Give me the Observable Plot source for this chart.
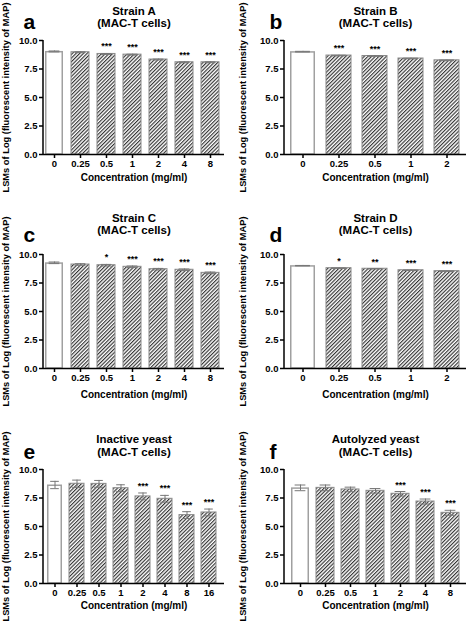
<!DOCTYPE html>
<html><head><meta charset="utf-8">
<script src="https://cdn.jsdelivr.net/npm/d3@7"></script>
<script src="https://cdn.jsdelivr.net/npm/@observablehq/plot@0.6"></script>
<style>
html,body{margin:0;padding:0;background:#fff;}
#root{position:relative;width:472px;height:622px;overflow:hidden;background:#fff;}
.panel{position:absolute;}
</style></head><body><div id="root"></div>
<script>
// ---- data ----
const concA = ["0", "0.25", "0.5", "1", "2", "4", "8"];
const meanA = [9.04, 8.97, 8.82, 8.76, 8.33, 8.09, 8.09];
const errA = [0.04, 0.04, 0.04, 0.04, 0.04, 0.04, 0.04];
const sigA = ["", "", "***", "***", "***", "***", "***"];

const concB = ["0", "0.25", "0.5", "1", "2"];
const meanB = [9.02, 8.68, 8.64, 8.42, 8.26];
const errB = [0.03, 0.03, 0.03, 0.03, 0.03];
const sigB = ["", "***", "***", "***", "***"];

const concC = ["0", "0.25", "0.5", "1", "2", "4", "8"];
const meanC = [9.27, 9.12, 9.06, 8.92, 8.71, 8.66, 8.39];
const errC = [0.07, 0.07, 0.07, 0.07, 0.07, 0.07, 0.07];
const sigC = ["", "", "*", "***", "***", "***", "***"];

const concD = ["0", "0.25", "0.5", "1", "2"];
const meanD = [9.02, 8.8, 8.75, 8.62, 8.54];
const errD = [0.02, 0.02, 0.02, 0.02, 0.02];
const sigD = ["", "*", "**", "***", "***"];

const concE = ["0", "0.25", "0.5", "1", "2", "4", "8", "16"];
const meanE = [8.64, 8.75, 8.74, 8.36, 7.64, 7.43, 6.0, 6.23];
const errE = [0.32, 0.32, 0.3, 0.3, 0.3, 0.3, 0.3, 0.3];
const sigE = ["", "", "", "", "***", "***", "***", "***"];

const concF = ["0", "0.25", "0.5", "1", "2", "4", "8"];
const meanF = [8.39, 8.39, 8.25, 8.13, 7.87, 7.19, 6.2];
const errF = [0.25, 0.25, 0.2, 0.2, 0.2, 0.22, 0.22];
const sigF = ["", "", "", "", "***", "***", "***"];

const yTicks = [0, 2.5, 5, 7.5, 10];
const yLabel = "LSMs of Log (fluorescent intensity of MAP)";
const xLabel = "Concentration (mg/ml)";
const subTitle = "(MAC-T cells)";

const FONT = "'Liberation Sans', Arial, Helvetica, sans-serif";
const root = document.getElementById("root");

function makePanel(p) {
  const data = p.conc.map((c, i) => ({c, v: p.mean[i], e: p.err[i], s: p.sig[i], first: i === 0}));
  const id = "hatch-" + p.letter;
  const n = p.conc.length;
  const range = 236 - p.ml - p.mr - p.il - p.ir;
  const step = range / (n - 0.3 + 0.04);
  const capInset = step * 0.7 * 0.2;

  const defs = () => {
    const d = d3.create("svg:defs");
    const pat = d.append("pattern").attr("id", id).attr("patternUnits", "userSpaceOnUse")
      .attr("width", 2.6).attr("height", 2.6).attr("patternTransform", "rotate(45)");
    pat.append("rect").attr("width", 2.6).attr("height", 2.6).attr("fill", "#fff");
    pat.append("rect").attr("width", 1.15).attr("height", 2.6).attr("fill", "#333");
    return d.node();
  };
  const yAxisLine = (index, scales, values, dims) => {
    return d3.create("svg:line")
      .attr("x1", dims.marginLeft).attr("x2", dims.marginLeft)
      .attr("y1", scales.y(10)).attr("y2", scales.y(0) + 0.75)
      .attr("stroke", "#000").attr("stroke-width", 1.5).node();
  };

  const chart = Plot.plot({
    width: 236, height: p.h,
    marginLeft: p.ml, marginRight: p.mr, marginTop: p.mt, marginBottom: p.mb,
    style: {fontFamily: FONT, fontWeight: "bold", fontSize: "9.5px", color: "#000", background: "transparent", overflow: "visible"},
    x: {type: "band", domain: p.conc, paddingInner: 0.3, paddingOuter: 0.02, insetLeft: p.il, insetRight: p.ir},
    y: {domain: [0, 10]},
    marks: [
      defs,
      Plot.barY(data.filter(d => d.first), {x: "c", y: "v", fill: "#fff", stroke: "#a0a0a0", strokeWidth: 1.5, insetTop: 0.75, insetLeft: 0.75, insetRight: 0.75}),
      Plot.barY(data.filter(d => !d.first), {x: "c", y: "v", fill: `url(#${id})`, stroke: "#8a8a8a", strokeWidth: 1}),
      Plot.ruleX(data, {x: "c", y1: d => d.v - d.e, y2: d => d.v + d.e, stroke: "#777", strokeWidth: 1}),
      Plot.tickY(data, {x: "c", y: d => d.v + d.e, stroke: "#777", strokeWidth: 1, inset: capInset}),
      Plot.tickY(data, {x: "c", y: d => d.v - d.e, stroke: "#777", strokeWidth: 1, inset: capInset}),
      Plot.text(data.filter(d => d.s), {x: "c", y: d => d.v + d.e, text: "s", lineAnchor: "bottom", dy: -4, fontSize: 9}),
      Plot.ruleY([0], {stroke: "#000", strokeWidth: 1.5}),
      yAxisLine,
      Plot.axisY({ticks: yTicks, tickFormat: d3.format(".1f"), tickSize: 4, tickPadding: 2, label: null, strokeWidth: 1.5}),
      Plot.axisX({tickSize: 4, tickPadding: 2, label: null, strokeWidth: 1.5}),
      Plot.text([p.title], {text: d => d, frameAnchor: "top", dy: p.t1 - p.mt, fontSize: 11.5, lineAnchor: "middle"}),
      Plot.text([subTitle], {text: d => d, frameAnchor: "top", dy: p.t2 - p.mt, fontSize: 11.5, lineAnchor: "middle"}),
      Plot.text([p.letter], {text: d => d, frameAnchor: "top-left", dx: p.lx - p.ml, dy: p.lby - p.mt, lineAnchor: "bottom", textAnchor: "start", fontSize: 21}),
      Plot.text([yLabel], {text: d => d, frameAnchor: "left", rotate: -90, dx: p.ylx - p.ml, fontSize: 9.3, textAnchor: "middle", lineAnchor: "middle"}),
      Plot.text([xLabel], {text: d => d, frameAnchor: "bottom", dy: p.xly, fontSize: 10, lineAnchor: "middle"})
    ]
  });
  const div = document.createElement("div");
  div.className = "panel";
  div.style.left = p.left + "px";
  div.style.top = p.top + "px";
  div.appendChild(chart);
  root.appendChild(div);
}

const rows = [
  {top: 0, h: 205, mt: 40, mb: 51, t1: 11, t2: 23, lby: 28, xly: 23},
  {top: 205, h: 210, mt: 49, mb: 47, t1: 13, t2: 25, lby: 36, xly: 26},
  {top: 410, h: 212, mt: 59, mb: 39, t1: 29, t2: 42, lby: 48, xly: 22}
];
const cols = [
  {left: 0, ml: 43, mr: 12, il: 1, ir: 4, lx: 23, ylx: 5.5},
  {left: 236, ml: 48, mr: 6, il: 4, ir: 4, lx: 33, ylx: 6.5}
];
const panels = [
  {letter: "a", title: "Strain A", conc: concA, mean: meanA, err: errA, sig: sigA, r: 0, c: 0},
  {letter: "b", title: "Strain B", conc: concB, mean: meanB, err: errB, sig: sigB, r: 0, c: 1},
  {letter: "c", title: "Strain C", conc: concC, mean: meanC, err: errC, sig: sigC, r: 1, c: 0},
  {letter: "d", title: "Strain D", conc: concD, mean: meanD, err: errD, sig: sigD, r: 1, c: 1},
  {letter: "e", title: "Inactive yeast", conc: concE, mean: meanE, err: errE, sig: sigE, r: 2, c: 0},
  {letter: "f", title: "Autolyzed yeast", conc: concF, mean: meanF, err: errF, sig: sigF, r: 2, c: 1}
];
for (const p of panels) makePanel(Object.assign({}, rows[p.r], cols[p.c], p));
</script>
</body></html>
